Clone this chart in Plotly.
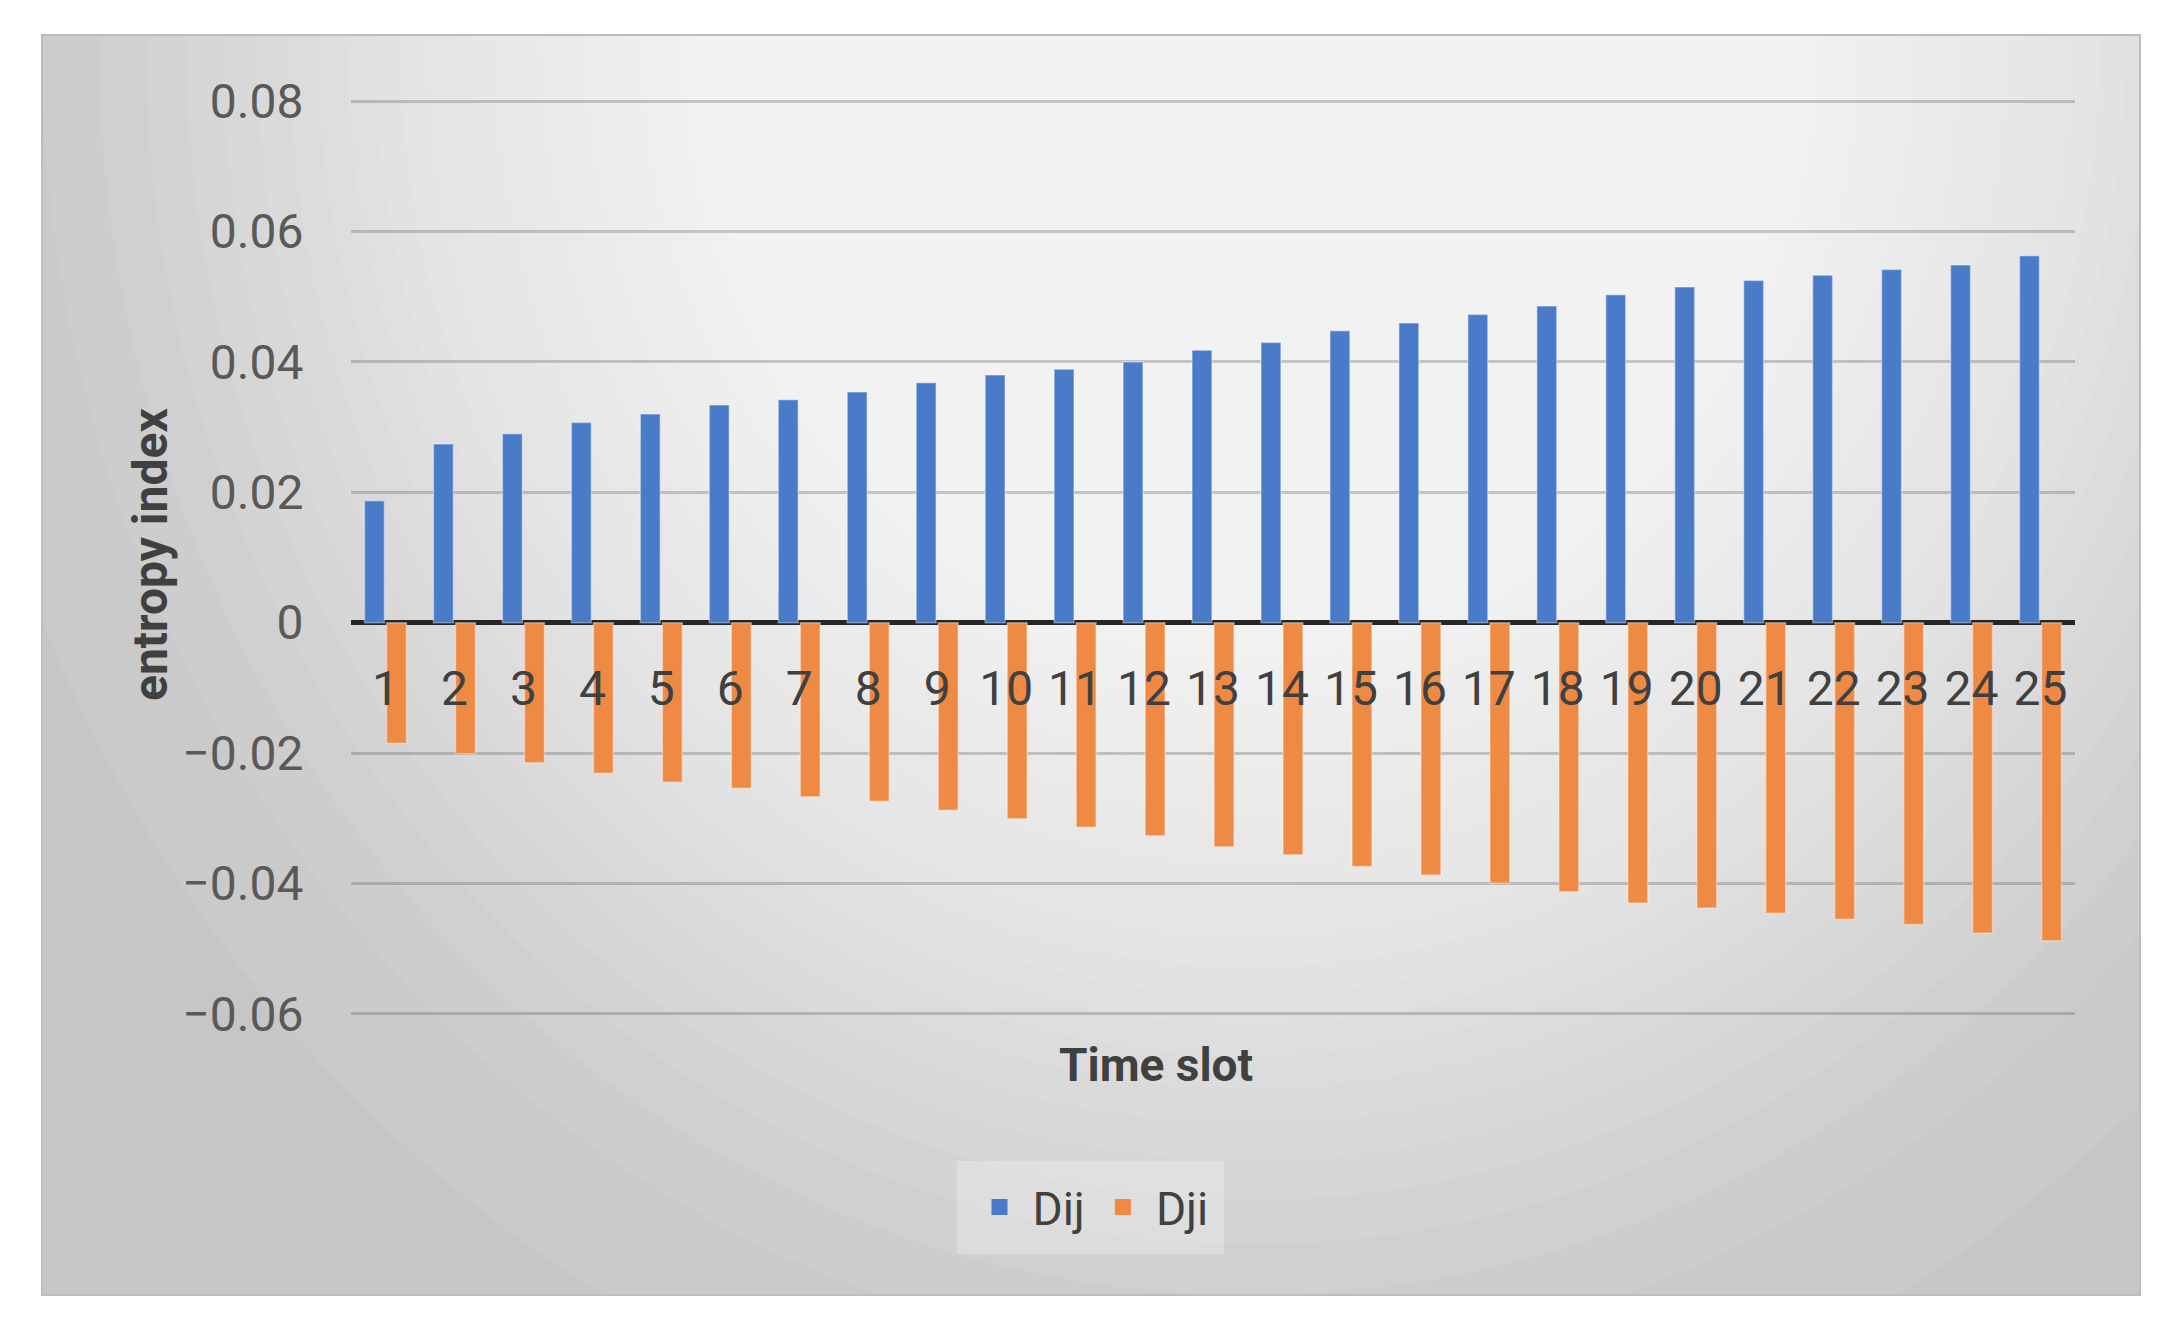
import plotly.graph_objects as go

# ---------------- data ----------------
slots = [str(i) for i in range(1, 26)]
dij = [0.0187, 0.0274, 0.0290, 0.0307, 0.0320, 0.0334, 0.0342, 0.0354, 0.0368,
       0.0380, 0.0389, 0.0400, 0.0418, 0.0430, 0.0448, 0.0460, 0.0473, 0.0486,
       0.0503, 0.0515, 0.0525, 0.0533, 0.0542, 0.0549, 0.0563]
dji = [-0.0185, -0.0201, -0.0215, -0.0231, -0.0245, -0.0254, -0.0267, -0.0274,
       -0.0288, -0.0301, -0.0314, -0.0327, -0.0344, -0.0356, -0.0374, -0.0387,
       -0.0400, -0.0413, -0.0430, -0.0438, -0.0446, -0.0455, -0.0463, -0.0476,
       -0.0488]
y_ticks = [-0.06, -0.04, -0.02, 0, 0.02, 0.04, 0.06, 0.08]
y_tick_labels = ["\u22120.06", "\u22120.04", "\u22120.02", "0", "0.02", "0.04", "0.06", "0.08"]
series_names = ["Dij", "Dji"]
series_colors = ["#4a7bc8", "#ef8a45"]

# ---------------- layout geometry ----------------
OFF = 8  # default page body margin
W, H = 2176 - OFF, 1339 - OFF
L, R, T, B = 351 - OFF, 101, 100 - OFF, 324
pw, ph = W - L - R, H - T - B
ymin, ymax = -0.06, 0.08


def px_x(px):
    return (px - OFF - L) / pw


def px_y(py):
    return (H - B - (py - OFF)) / ph


fig = go.Figure()
for name, vals, col in zip(series_names, [dij, dji], series_colors):
    fig.add_trace(go.Bar(x=slots, y=vals, name=name, marker_color=col,
                         marker_line=dict(color="rgba(255,255,255,0.35)", width=1.5),
                         showlegend=False))
    fig.add_trace(go.Scatter(x=[None], y=[None], mode="markers", name=name,
                             marker=dict(symbol="square", size=24, color=col),
                             showlegend=True))

shapes = []
# gray panel
shapes.append(dict(type="rect", xref="paper", yref="paper", layer="below",
                   x0=px_x(42), x1=px_x(2140), y0=px_y(1295), y1=px_y(35),
                   fillcolor="#c6c6c6", line=dict(width=0)))
# radial highlight (stacked translucent ellipses)
cx, cy = 1250, 40
RX, RY = 1300, 1420
N = 60
for k in range(N):
    f = 1 - (k / N) ** 0.6
    rx = RX * f + 20
    ry = RY * f + 20
    shapes.append(dict(type="circle", xref="paper", yref="paper", layer="below",
                       x0=px_x(cx - rx), x1=px_x(cx + rx),
                       y0=px_y(cy + ry), y1=px_y(cy - ry),
                       fillcolor="rgba(255,255,255,0.07)", line=dict(width=0)))
# restore white outside the panel
for (a, b, c, d) in [(-10, 42, -10, 1349), (2140, 2186, -10, 1349),
                     (-10, 2186, -10, 35), (-10, 2186, 1295, 1349)]:
    shapes.append(dict(type="rect", xref="paper", yref="paper", layer="below",
                       x0=px_x(a), x1=px_x(b), y0=px_y(d), y1=px_y(c),
                       fillcolor="white", line=dict(width=0)))
shapes.append(dict(type="rect", xref="paper", yref="paper", layer="below",
                   x0=px_x(42), x1=px_x(2140), y0=px_y(1295), y1=px_y(35),
                   fillcolor="rgba(0,0,0,0)", line=dict(color="#bdbdbd", width=2)))
fig.update_layout(shapes=shapes)

zero_pos = (0 - ymin) / (ymax - ymin)

fig.update_layout(
    width=W, height=H,
    margin=dict(l=L, r=R, t=T, b=B),
    paper_bgcolor="white",
    plot_bgcolor="rgba(0,0,0,0)",
    barmode="group",
    bargap=0.36,
    bargroupgap=0.1,
    font=dict(family="Roboto", color="#595959"),
    xaxis=dict(type="category", anchor="free", position=zero_pos,
               showgrid=False, showline=False, zeroline=False,
               ticks="outside", ticklen=24, tickcolor="rgba(0,0,0,0)",
               tickfont=dict(size=48, color="#404040", family="Roboto")),
    yaxis=dict(range=[ymin - 0.0002, ymax + 0.0002], tickvals=y_ticks,
               ticktext=y_tick_labels,
               showgrid=True, gridcolor="rgba(80,80,80,0.28)", gridwidth=3,
               zeroline=True, zerolinecolor="#262626", zerolinewidth=5,
               showline=False, ticks="outside", ticklen=37,
               tickcolor="rgba(0,0,0,0)",
               tickfont=dict(size=48, color="#595959", family="Roboto")),
    legend=dict(orientation="h", x=px_x(1090), xanchor="center",
                y=px_y(1207), yanchor="middle",
                bgcolor="rgba(250,250,250,0.3)",
                bordercolor="rgba(250,250,250,0.0)", borderwidth=20,
                itemwidth=56,
                font=dict(size=46, color="#404040", family="Roboto"),
                itemsizing="trace"),
    annotations=[
        dict(text="<b>entropy index</b>", textangle=-90, xref="paper", yref="paper",
             x=px_x(150), y=px_y(555), xanchor="center", yanchor="middle",
             showarrow=False,
             font=dict(size=48, color="#404040", family="Roboto")),
        dict(text="<b>Time slot</b>", xref="paper", yref="paper",
             x=px_x(1156), y=px_y(1065), xanchor="center", yanchor="middle",
             showarrow=False,
             font=dict(size=46, color="#404040", family="Roboto")),
    ],
)

fig.write_html("out.html")
